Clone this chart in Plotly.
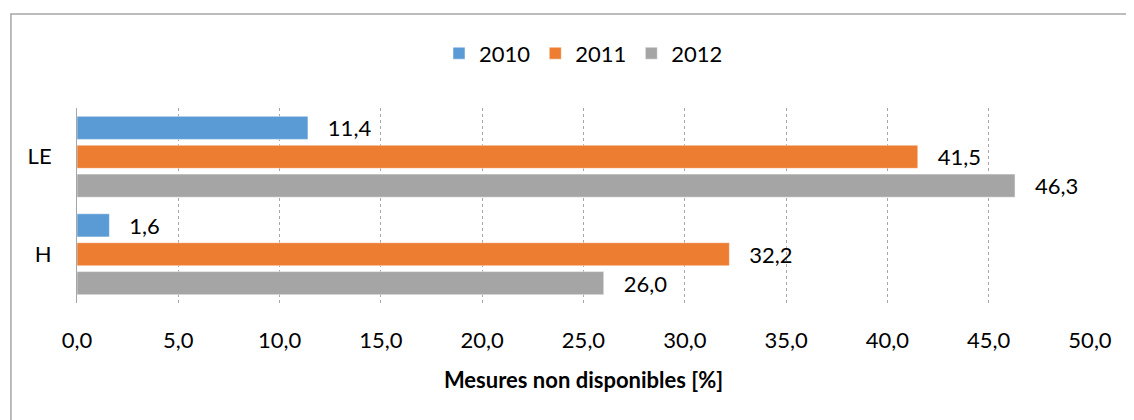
import plotly.graph_objects as go

# Data
categories = ["LE", "H"]
years = ["2010", "2011", "2012"]
vals_2010 = [11.4, 1.6]
vals_2011 = [41.5, 32.2]
vals_2012 = [46.3, 26.0]
colors = ["#5B9BD5", "#ED7D31", "#A5A5A5"]

series = [vals_2010, vals_2011, vals_2012]
fontfam = "Lato, 'Open Sans', sans-serif"
fsize = 22

fig = go.Figure()
for yr, vals, col in zip(years, series, colors):
    fig.add_trace(go.Bar(
        y=categories, x=vals, name=yr, orientation="h",
        marker=dict(color=col, line=dict(color="white", width=0.5)),
        text=["   " + f"{v:.1f}".replace(".", ",") for v in vals],
        textposition="outside", cliponaxis=False, constraintext="none",
        textfont=dict(size=fsize, color="black", family=fontfam),
    ))

# page body adds an 8px offset, margins compensate
fig.update_layout(
    width=1134, height=420,
    margin=dict(l=69, r=52, t=100, b=125),
    paper_bgcolor="white", plot_bgcolor="white",
    barmode="group", bargap=0.11, bargroupgap=0.2,
    separators=", ",
    font=dict(family=fontfam, size=fsize, color="black"),
    legend=dict(orientation="h", x=0.5, xanchor="center", y=1.28, yanchor="middle",
                font=dict(size=fsize), itemwidth=30, traceorder="normal"),
    showlegend=True,
)
fig.update_xaxes(
    range=[0, 50], dtick=5, tickformat=".1f",
    showgrid=True, gridcolor="#A6A6A6", griddash="dot", gridwidth=1,
    zeroline=False, ticks="", ticklabelstandoff=22,
    title=dict(text="<b>Mesures non disponibles [%]</b>", font=dict(size=fsize), standoff=20),
)
fig.update_yaxes(
    autorange="reversed", showline=True, linecolor="#A6A6A6", linewidth=1,
    showgrid=False, ticks="", ticklabelstandoff=20,
)
# Outer chart frame
fig.add_shape(type="rect", xref="paper", yref="paper",
              x0=-0.0652, x1=1.2, y0=-1.0, y1=1.482,
              line=dict(color="#A6A6A6", width=1.5), fillcolor="rgba(0,0,0,0)", layer="below")

fig.write_html("out.html")
